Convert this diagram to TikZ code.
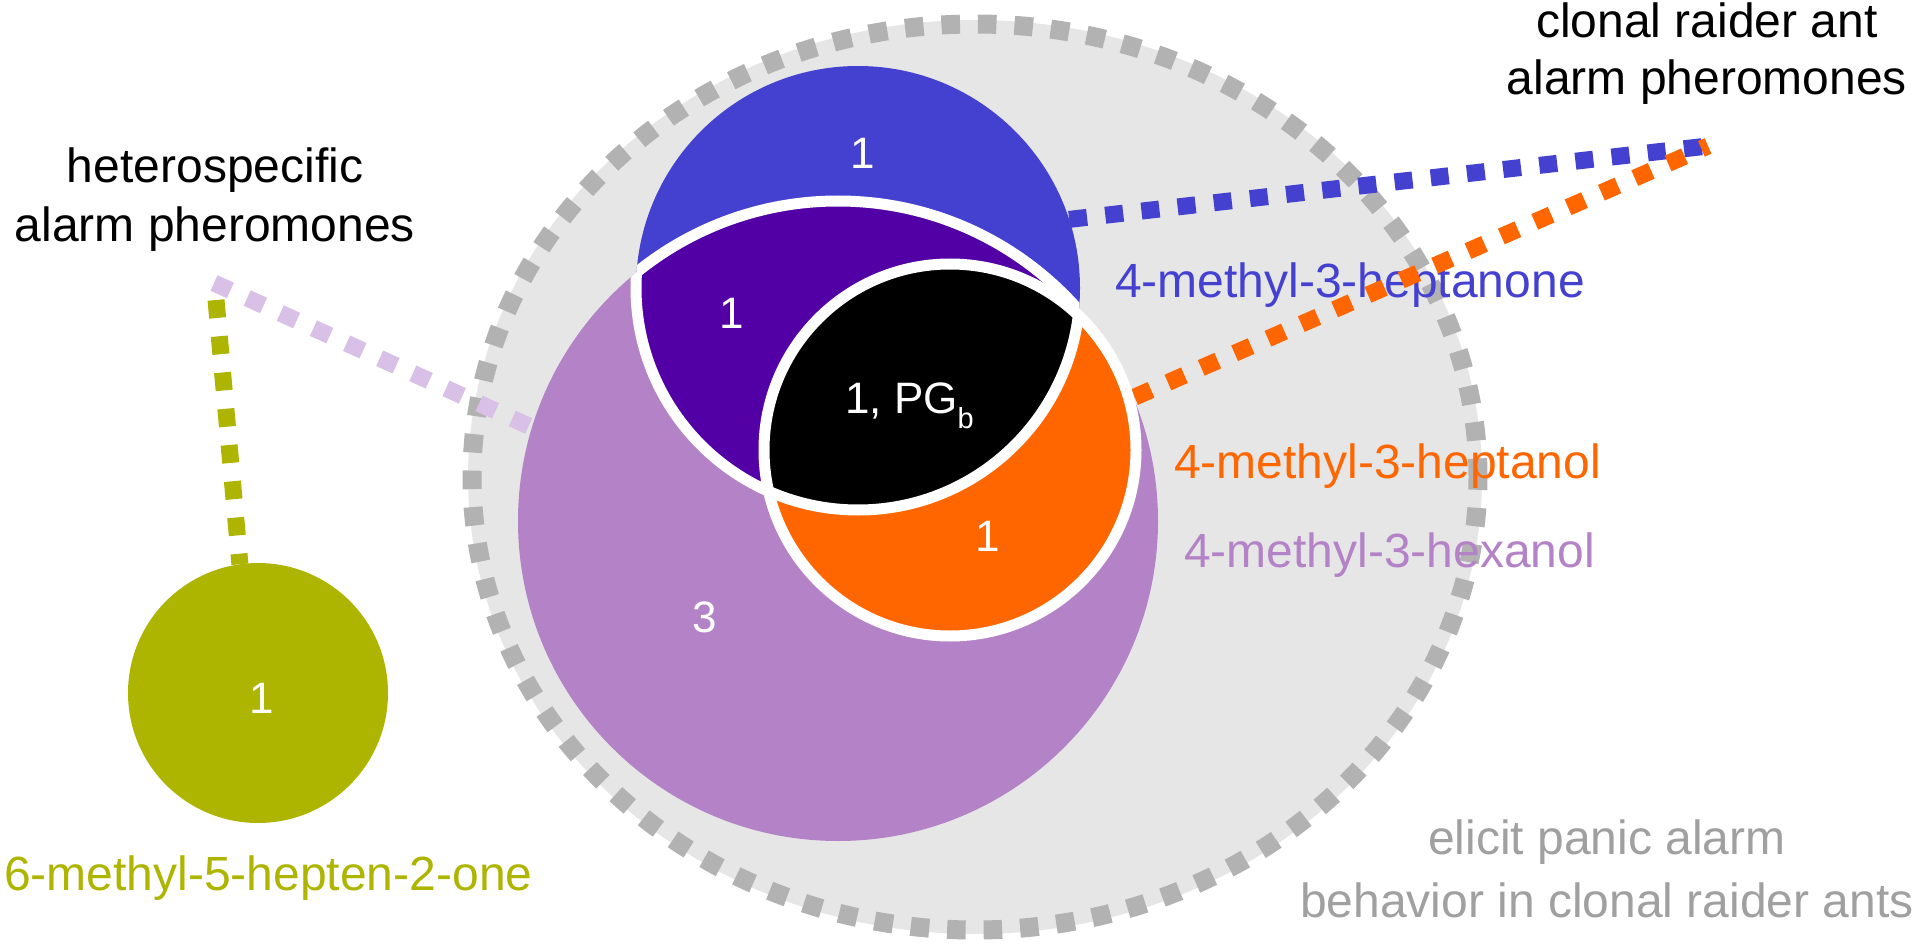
\documentclass[tikz,border=0pt]{standalone}
\usepackage{fontspec}
\setmainfont{Liberation Sans}
\definecolor{cblue}{RGB}{68,64,208}
\definecolor{cindigo}{RGB}{82,0,165}
\definecolor{cpurple}{RGB}{180,130,198}
\definecolor{corange}{RGB}{255,102,0}
\definecolor{cgreen}{RGB}{174,181,0}
\definecolor{clav}{RGB}{217,192,230}
\definecolor{cbg}{RGB}{230,230,230}
\definecolor{cdash}{RGB}{178,178,178}
\definecolor{ctext}{RGB}{160,160,160}
\pgfdeclarelayer{back}
\pgfdeclarelayer{links}
\pgfsetlayers{back,links,main}
\begin{document}
\begin{tikzpicture}[x=1pt,y=-1pt,
  lbl/.style={font=\fontsize{48}{58}\selectfont, inner sep=0pt, anchor=base},
  num/.style={font=\fontsize{44}{52}\selectfont, text=white, inner sep=0pt},
  dotline/.style={line width=17pt, dash pattern=on 18pt off 18.4pt},
  venn/.style={circle, inner sep=0pt, outer sep=0pt, draw=none},
  whiteline/.style={white, line width=11pt}]
\useasboundingbox (0,0) rectangle (1920,944);

% background ellipse and labels
\begin{pgfonlayer}{back}
\fill[cbg] (975,477) ellipse [x radius=507pt, y radius=457pt];
\draw[cdash, line width=19pt, dash pattern=on 18.5pt off 18pt] (975,477) ellipse [x radius=503pt, y radius=453pt];
\node[lbl] (het1) at (215,183) {heterospecific};
\node[lbl] (het2) at (215,242) {alarm pheromones};
\node[lbl] (cr1) at (1707,38) {clonal raider ant};
\node[lbl] (cr2) at (1707,95) {alarm pheromones};
\node[lbl, anchor=base west, text=cblue] (tblue) at (1115,297) {4-methyl-3-heptanone};
\node[lbl, anchor=base west, text=corange] (torange) at (1174,478) {4-methyl-3-heptanol};
\node[lbl, anchor=base west, text=cpurple] (tpurple) at (1184,567) {4-methyl-3-hexanol};
\node[lbl, anchor=base west, text=cgreen] (tgreen) at (4,890) {6-methyl-5-hepten-2-one};
\node[lbl, text=ctext] (el1) at (1607,854) {elicit panic alarm};
\node[lbl, text=ctext] (el2) at (1607,917) {behavior in clonal raider ants};
\end{pgfonlayer}

% sets
\node[venn, fill=cpurple, minimum size=640pt] (purple) at (838,521) {};
\node[venn, fill=cblue, minimum size=444pt] (blue) at (858,288) {};
\begin{scope}
  \clip (838,521) circle [radius=320pt];
  \fill[cindigo] (858,288) circle [radius=222pt];
\end{scope}
\node[venn, fill=corange, minimum size=372pt, outer sep=6pt] (orange) at (950,450) {};
\begin{scope}
  \clip (950,450) circle [radius=186pt];
  \fill[black] (858,288) circle [radius=222pt];
\end{scope}
\begin{scope}
  \clip (838,521) circle [radius=320pt];
  \draw[whiteline] (858,288) circle [radius=222pt];
\end{scope}
\begin{scope}
  \clip (858,288) circle [radius=222pt];
  \draw[whiteline] (838,521) circle [radius=320pt];
\end{scope}
\draw[whiteline] (950,450) circle [radius=186pt];
\node[venn, fill=cgreen, minimum size=260pt] (green) at (258,693) {};

% counts
\node[num] (nblue) at (863,153) {1};
\node[num] (nindigo) at (732,313) {1};
\node[num, anchor=base west] (nblack) at (845,413) {1, PG\raisebox{-15pt}{\fontsize{29}{29}\selectfont b}};
\node[num] (norange) at (988,536) {1};
\node[num] (npurple) at (705,617) {3};
\node[num] (ngreen) at (262,698) {1};

% connectors
\coordinate (crc) at (1708,146);
\coordinate (hetL) at (214,283);
\coordinate (hetG) at (216,300);
\begin{pgfonlayer}{links}
\draw[dotline, cblue] (blue.18.5) -- (crc);
\draw[dotline, corange] (orange.16.5) -- (crc);
\draw[dotline, clav] (hetL) -- (purple.163);
\draw[dotline, cgreen] (hetG) -- (green.98);
\end{pgfonlayer}
\end{tikzpicture}
\end{document}
